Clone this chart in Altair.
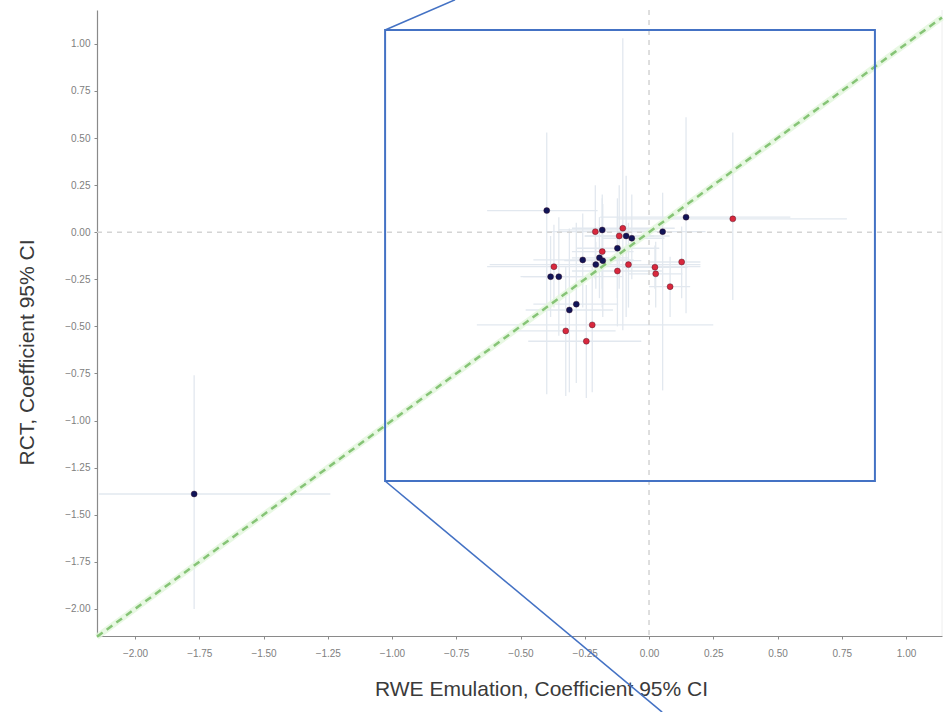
import altair as alt
import pandas as pd

# ---- data ----
navy_x   = [-1.770, -0.398, 0.144, 0.053, -0.182, -0.089, -0.067, -0.123, -0.258, -0.193, -0.180, -0.207, -0.383, -0.351, -0.283, -0.310]
navy_y   = [-1.390, 0.115, 0.080, 0.003, 0.012, -0.020, -0.032, -0.085, -0.147, -0.136, -0.151, -0.172, -0.236, -0.236, -0.382, -0.413]
navy_xlo = [-2.140, -0.630, -0.190, -0.100, -0.350, -0.250, -0.180, -0.280, -0.450, -0.300, -0.330, -0.620, -0.490, -0.500, -0.450, -0.480]
navy_xhi = [-1.240, -0.200, 0.550, 0.220, 0.000, 0.080, 0.060, 0.040, -0.060, -0.080, -0.030, 0.200, -0.100, -0.200, -0.120, -0.140]
navy_ylo = [-2.000, -0.860, -0.430, -0.840, -0.300, -0.450, -0.250, -0.350, -0.400, -0.350, -0.450, -0.300, -0.450, -0.550, -0.800, -0.850]
navy_yhi = [-0.760, 0.530, 0.610, 0.210, 0.180, 0.300, 0.200, 0.180, 0.100, 0.080, 0.150, -0.050, -0.020, 0.080, 0.050, 0.020]

red_x   = [0.326, -0.102, -0.209, -0.116, -0.182, -0.080, -0.123, 0.023, 0.026, 0.127, 0.082, -0.370, -0.221, -0.324, -0.244]
red_y   = [0.071, 0.021, 0.003, -0.020, -0.103, -0.172, -0.206, -0.186, -0.221, -0.158, -0.289, -0.183, -0.492, -0.524, -0.579]
red_xlo = [-0.120, -0.300, -0.400, -0.250, -0.300, -0.200, -0.300, -0.100, -0.080, 0.000, 0.000, -0.630, -0.670, -0.520, -0.470]
red_xhi = [0.770, 0.100, -0.020, 0.020, -0.060, 0.050, 0.050, 0.150, 0.130, 0.200, 0.160, 0.200, 0.250, -0.130, -0.030]
red_ylo = [-0.360, -0.520, -0.250, -0.300, -0.400, -0.400, -0.500, -0.300, -0.400, -0.350, -0.450, -0.400, -0.850, -0.870, -0.880]
red_yhi = [0.530, 1.030, 0.250, 0.250, 0.200, 0.050, 0.080, -0.070, -0.050, 0.030, -0.130, 0.040, -0.150, -0.180, -0.280]

tick_values = [-2.0, -1.75, -1.5, -1.25, -1.0, -0.75, -0.5, -0.25, 0.0, 0.25, 0.5, 0.75, 1.0]
x_domain = [-2.148, 1.140]
y_domain = [-2.144, 1.180]

# zoom-box annotation (data coordinates)
box = pd.DataFrame({"x": [-1.027], "x2": [0.879], "y": [1.074], "y2": [-1.321]})
connectors = pd.DataFrame({
    "x": [-1.027, -1.027], "y": [1.074, -1.321],
    "x2": [-0.755, 0.051], "y2": [1.234, -2.548],
})

df = pd.concat([
    pd.DataFrame({"x": navy_x, "y": navy_y, "xlo": navy_xlo, "xhi": navy_xhi,
                  "ylo": navy_ylo, "yhi": navy_yhi, "grp": "RWE"}),
    pd.DataFrame({"x": red_x, "y": red_y, "xlo": red_xlo, "xhi": red_xhi,
                  "ylo": red_ylo, "yhi": red_yhi, "grp": "RCT"}),
], ignore_index=True)

diag = pd.DataFrame({"x": x_domain, "y": x_domain})

xs = alt.Scale(domain=x_domain, nice=False, zero=False)
ys = alt.Scale(domain=y_domain, nice=False, zero=False)

x_axis = alt.Axis(values=tick_values, format=".2f", title="RWE Emulation, Coefficient 95% CI",
                  grid=False, tickSize=3, labelPadding=9, titlePadding=20, titleX=444)
y_axis = alt.Axis(values=tick_values, format=".2f", title="RCT, Coefficient 95% CI",
                  grid=False, tickSize=3, labelPadding=4, titlePadding=27, titleY=342)

base = alt.Chart(df)

bar_color = "#e2e8ef"
hbars = base.mark_rule(color=bar_color, strokeWidth=1.3).encode(
    x=alt.X("xlo:Q", scale=xs, axis=x_axis), x2="xhi:Q",
    y=alt.Y("y:Q", scale=ys, axis=y_axis),
)
vbars = base.mark_rule(color=bar_color, strokeWidth=1.3).encode(
    x=alt.X("x:Q", scale=xs), y=alt.Y("ylo:Q", scale=ys), y2="yhi:Q",
)

zero_v = alt.Chart(pd.DataFrame({"v": [0.0]})).mark_rule(
    color="#d4d4d4", strokeWidth=1.5, strokeDash=[5, 5]).encode(x=alt.X("v:Q", scale=xs))
zero_h = alt.Chart(pd.DataFrame({"v": [0.0]})).mark_rule(
    color="#d4d4d4", strokeWidth=1.5, strokeDash=[5, 5]).encode(y=alt.Y("v:Q", scale=ys))

glow = alt.Chart(diag).mark_line(color="#e2f6dc", strokeWidth=6, opacity=0.8).encode(
    x=alt.X("x:Q", scale=xs), y=alt.Y("y:Q", scale=ys))
dline = alt.Chart(diag).mark_line(color="#86c476", strokeWidth=2.5, strokeDash=[7, 5]).encode(
    x=alt.X("x:Q", scale=xs), y=alt.Y("y:Q", scale=ys))

points = base.mark_circle(size=36, opacity=1, stroke="#3a1020", strokeWidth=0.4).encode(
    x=alt.X("x:Q", scale=xs), y=alt.Y("y:Q", scale=ys),
    color=alt.Color("grp:N", scale=alt.Scale(domain=["RWE", "RCT"], range=["#111457", "#d8283d"]),
                    legend=None),
)

right_edge = alt.Chart(pd.DataFrame({"v": [x_domain[1]]})).mark_rule(
    color="#eeeeee", strokeWidth=1).encode(x=alt.X("v:Q", scale=xs))

box_mark = alt.Chart(box).mark_rect(fill=None, stroke="#4472c4", strokeWidth=2).encode(
    x=alt.X("x:Q", scale=xs), x2="x2:Q", y=alt.Y("y:Q", scale=ys), y2="y2:Q")
conn_mark = alt.Chart(connectors).mark_rule(color="#4472c4", strokeWidth=1.6).encode(
    x=alt.X("x:Q", scale=xs), x2="x2:Q", y=alt.Y("y:Q", scale=ys), y2="y2:Q")

chart = alt.layer(
    hbars, vbars, zero_v, zero_h, right_edge, glow, dline, points, box_mark, conn_mark
).properties(
    width=845, height=626,
    autosize=alt.AutoSizeParams(type="none"),
    padding={"left": 97, "top": 10, "right": 6, "bottom": 76},
).configure_view(stroke=None).configure_axis(
    labelFont="Liberation Sans", labelFontSize=10, labelColor="#808080",
    titleFont="Liberation Sans", titleFontSize=21, titleFontWeight="normal", titleColor="#3a3a3a",
    domainColor="#8a8a8a", domainWidth=1.2, tickColor="#8a8a8a",
)

chart.save("out.html", embed_options={"renderer": "svg", "actions": False})
